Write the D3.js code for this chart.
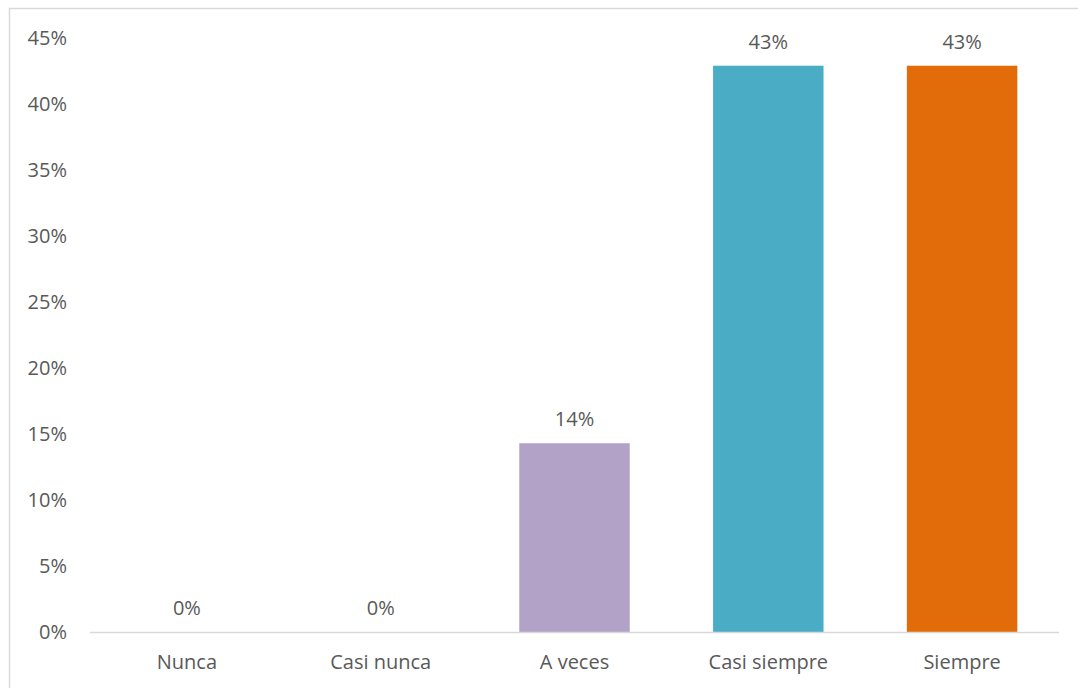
<!DOCTYPE html>
<html>
<head>
<meta charset="utf-8">
<script src="https://cdn.jsdelivr.net/npm/d3@7"></script>
<style>
  html, body { margin: 0; padding: 0; background: #fff; overflow: hidden; }
  svg { display: block; }
  text { font-family: "Open Sans", "Noto Sans", sans-serif; fill: #595959; }
</style>
</head>
<body>
<svg id="chart" width="1078" height="688"></svg>
<script>
// Survey response frequencies
const categories = ["Nunca", "Casi nunca", "A veces", "Casi siempre", "Siempre"];
const values = [0, 0, 0.143, 0.429, 0.429];
const colors = ["#4f81bd", "#c0504d", "#b2a2c7", "#4bacc6", "#e36c0a"];
const yTicks = [0, 0.05, 0.10, 0.15, 0.20, 0.25, 0.30, 0.35, 0.40, 0.45];

const W = 1078, H = 688;
const margin = { left: 90, right: 19, top: 38, bottom: 56 };
const fontSize = 20;
const svg = d3.select("#chart");

// outer chart frame (extends past the right and bottom edges)
svg.append("rect")
  .attr("x", 9.5).attr("y", 8.5)
  .attr("width", W + 20).attr("height", H + 20)
  .attr("fill", "none").attr("stroke", "#d9d9d9").attr("stroke-width", 1.5);

const x = d3.scaleBand()
  .domain(categories)
  .range([margin.left, W - margin.right])
  .paddingInner(0.43).paddingOuter(0.215);

const y = d3.scaleLinear()
  .domain([0, 0.45])
  .range([H - margin.bottom, margin.top]);

const pct = d3.format(".0%");

// y axis labels (no line, no ticks)
const yAxis = svg.append("g")
  .attr("transform", `translate(${margin.left - 23},0)`)
  .call(d3.axisLeft(y).tickValues(yTicks).tickFormat(pct).tickSize(0).tickPadding(0));
yAxis.select(".domain").remove();
yAxis.selectAll("text")
  .attr("font-size", fontSize).attr("fill", "#595959")
  .style("font-family", '"Open Sans", "Noto Sans", sans-serif');

// bars
svg.append("g").selectAll("rect")
  .data(categories)
  .join("rect")
  .attr("x", d => x(d))
  .attr("width", x.bandwidth())
  .attr("y", (d, i) => y(values[i]))
  .attr("height", (d, i) => y(0) - y(values[i]))
  .attr("fill", (d, i) => colors[i]);

// x axis
const xAxis = svg.append("g")
  .attr("transform", `translate(0,${y(0)})`)
  .call(d3.axisBottom(x).tickSize(0).tickPadding(23).tickSizeOuter(0));
xAxis.select(".domain")
  .attr("stroke", "#d9d9d9").attr("stroke-width", 1.5)
  .attr("d", `M${margin.left},0.5H${W - margin.right}`);
xAxis.selectAll("text")
  .attr("font-size", fontSize).attr("fill", "#595959")
  .style("font-family", '"Open Sans", "Noto Sans", sans-serif');

// value labels
svg.append("g").selectAll("text")
  .data(categories)
  .join("text")
  .attr("x", d => x(d) + x.bandwidth() / 2)
  .attr("y", (d, i) => y(values[i]) - 17)
  .attr("text-anchor", "middle")
  .attr("font-size", fontSize)
  .text((d, i) => pct(values[i]));
</script>
</body>
</html>
